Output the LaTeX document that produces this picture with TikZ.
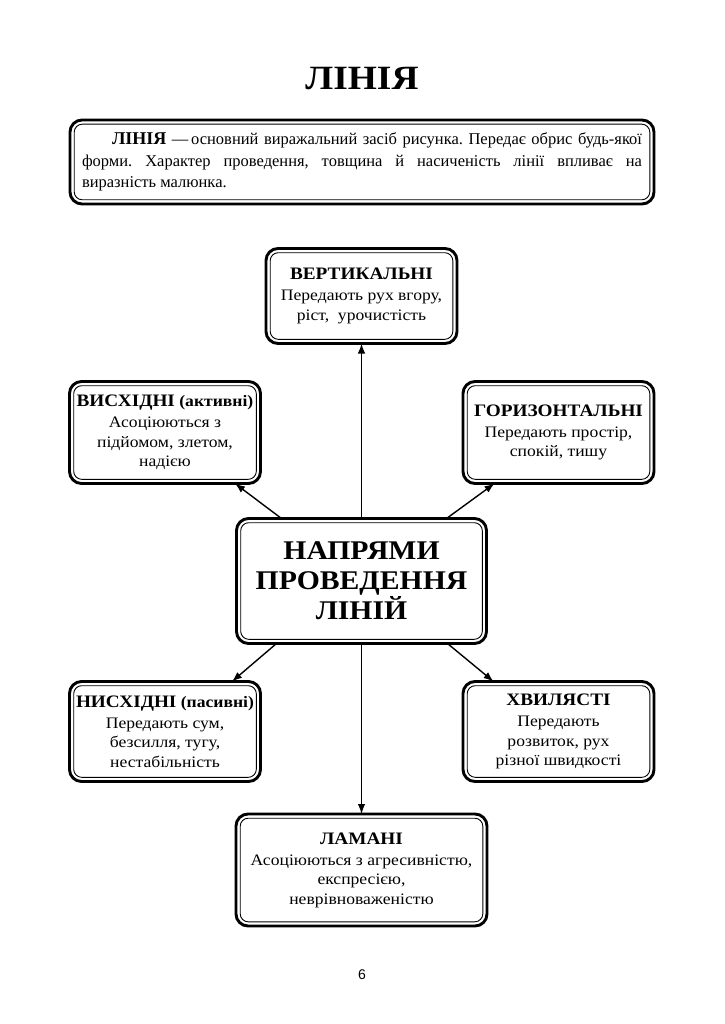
\documentclass[tikz,border=0pt]{standalone}
\usepackage{fontspec}
\setmainfont{Liberation Serif}[FakeStretch=1.1]
\newfontfamily\plainfont{Liberation Serif}
\newfontfamily\pagefont{Liberation Sans}
\usetikzlibrary{arrows.meta}
\pgfdeclarelayer{nodelayer}
\pgfdeclarelayer{edgelayer}
\pgfsetlayers{edgelayer,nodelayer,main}
\tikzstyle{none}=[inner sep=0pt]
\tikzset{dbox/.style={draw, line width=2.9pt, rounded corners=12pt, fill=white,
outer sep=0pt, inner sep=2pt, align=center, font=\fontsize{16}{19.5}\selectfont}}
\tikzset{inbox/.style={line width=0.9pt, rounded corners=8pt}}
\tikzset{arrow/.style={line width=1.4pt, -{Latex[length=10pt,width=7.5pt]}}}
\newcommand{\hd}[1]{{\bfseries\fontsize{17.5}{19.5}\selectfont #1}}

\begin{document}
\begin{tikzpicture}[x=1pt, y=-1pt]
    \useasboundingbox (0,0) rectangle (724,1024);
    			\begin{pgfonlayer}{nodelayer}
    				\node [style=none, font=\bfseries\fontsize{34}{36}\selectfont] (0) at (362, 79) {ЛІНІЯ};
    				\node [style=dbox, minimum width=584, minimum height=84, text width=560, align=justify, font=\plainfont\frenchspacing\fontsize{16.5}{21.5}\selectfont] (1) at (362, 162)
    				{\hspace*{30pt}{\fontsize{18}{21.5}\selectfont\textbf{ЛІНІЯ}} —\,основний виражальний засіб рисунка. Передає обрис будь-якої\linebreak форми. Характер проведення, товщина й насиченість лінії впливає на\linebreak виразність малюнка.};
    				\node [style=dbox, minimum width=191, minimum height=95] (2) at (361.5, 296) {\hd{ВЕРТИКАЛЬНІ}\\[1.5pt]Передають рух вгору,\\ріст,~ урочистість};
    				\node [style=dbox, minimum width=191, minimum height=102] (3) at (165, 432.5) {\hd{ВИСХІДНІ} \textbf{(активні)}\\[1.5pt]Асоціюються з\\підйомом, злетом,\\надією};
    				\node [style=dbox, minimum width=191, minimum height=102] (4) at (558.5, 432.5) {\hd{ГОРИЗОНТАЛЬНІ}\\[1.5pt]Передають простір,\\спокій, тишу};
    				\node [style=dbox, minimum width=250, minimum height=125, font=\bfseries\fontsize{27}{30}\selectfont] (5) at (361.5, 581) {НАПРЯМИ\\ПРОВЕДЕННЯ\\ЛІНІЙ};
    				\node [style=dbox, minimum width=191, minimum height=100] (6) at (165, 731.5) {\hd{НИСХІДНІ} \textbf{(пасивні)}\\[1.5pt]Передають сум,\\безсилля, тугу,\\нестабільність};
    				\node [style=dbox, minimum width=191, minimum height=100] (7) at (558.5, 731.5) {\hd{ХВИЛЯСТІ}\\[1.5pt]Передають\\розвиток, рух\\різної швидкості};
    				\node [style=dbox, minimum width=251, minimum height=112] (8) at (361.5, 870) {\hd{ЛАМАНІ}\\[1.5pt]Асоціюються з агресивністю,\\експресією,\\неврівноваженістю};
    				\node [style=none, font=\pagefont\fontsize{14}{16}\selectfont] (9) at (362, 975) {6};
    				% inner border of the boxes
    				\foreach \n in {1,...,8}
    					\draw [style=inbox] ([shift={(4.2pt,-4.2pt)}]\n.north west) rectangle ([shift={(-4.2pt,4.2pt)}]\n.south east);
    			\end{pgfonlayer}
    			\begin{pgfonlayer}{edgelayer}
    				\draw [style=arrow] (5.north) to (2.south);
    				\draw [style=arrow] ([xshift=-80pt]5.north) to ([xshift=70pt]3.south);
    				\draw [style=arrow] ([xshift=85pt]5.north) to ([xshift=-64pt]4.south);
    				\draw [style=arrow] ([xshift=-85pt]5.south) to ([xshift=67pt]6.north);
    				\draw [style=arrow] ([xshift=86pt]5.south) to ([xshift=-65pt]7.north);
    				\draw [style=arrow] (5.south) to (8.north);
    			\end{pgfonlayer}
    		\end{tikzpicture}
\end{document}
